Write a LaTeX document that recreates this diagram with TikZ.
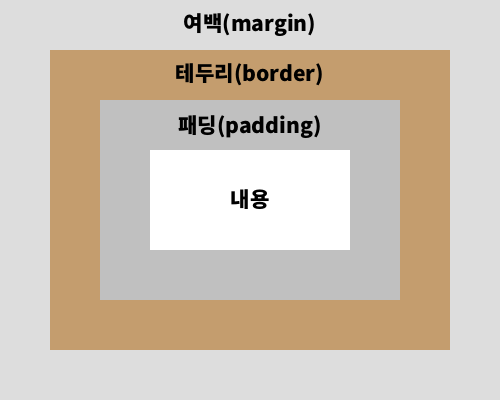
\documentclass[tikz,border=0pt]{standalone}
\usepackage{fontspec}
\newfontfamily\krfont{Noto Sans CJK KR}
\usepackage{xcolor}
\usetikzlibrary{positioning}
\definecolor{MarginColor}{RGB}{221,221,221}
\definecolor{BorderColor}{RGB}{196,157,110}
\definecolor{PaddingColor}{RGB}{192,192,192}

\tikzset{
    area/.style={inner sep=0pt, outer sep=0pt, draw=none},
    boxlabel/.style={inner sep=0pt, font=\krfont\bfseries\fontsize{12}{14}\selectfont, text=black}
}

\begin{document}
\begin{tikzpicture}[x=0.02cm, y=-0.02cm]
    % whole page = margin area
    \node[area, fill=MarginColor, minimum width=10cm, minimum height=8cm] (margin) at (250,200) {};
    \node[area, fill=BorderColor, minimum width=8cm, minimum height=6cm] (border) at (250,200) {};
    \node[area, fill=PaddingColor, minimum width=6cm, minimum height=4cm] (padding) at (250,200) {};
    \node[area, fill=white, minimum width=4cm, minimum height=2cm] (content) at (250,200) {};

    \node[boxlabel] (marginlabel) at (250,25) {여백(margin)};
    \node[boxlabel] (borderlabel) at (250,75) {테두리(border)};
    \node[boxlabel] (paddinglabel) at (250,127) {패딩(padding)};
    \node[boxlabel] (contentlabel) at (content.center) {내용};
\end{tikzpicture}
\end{document}
